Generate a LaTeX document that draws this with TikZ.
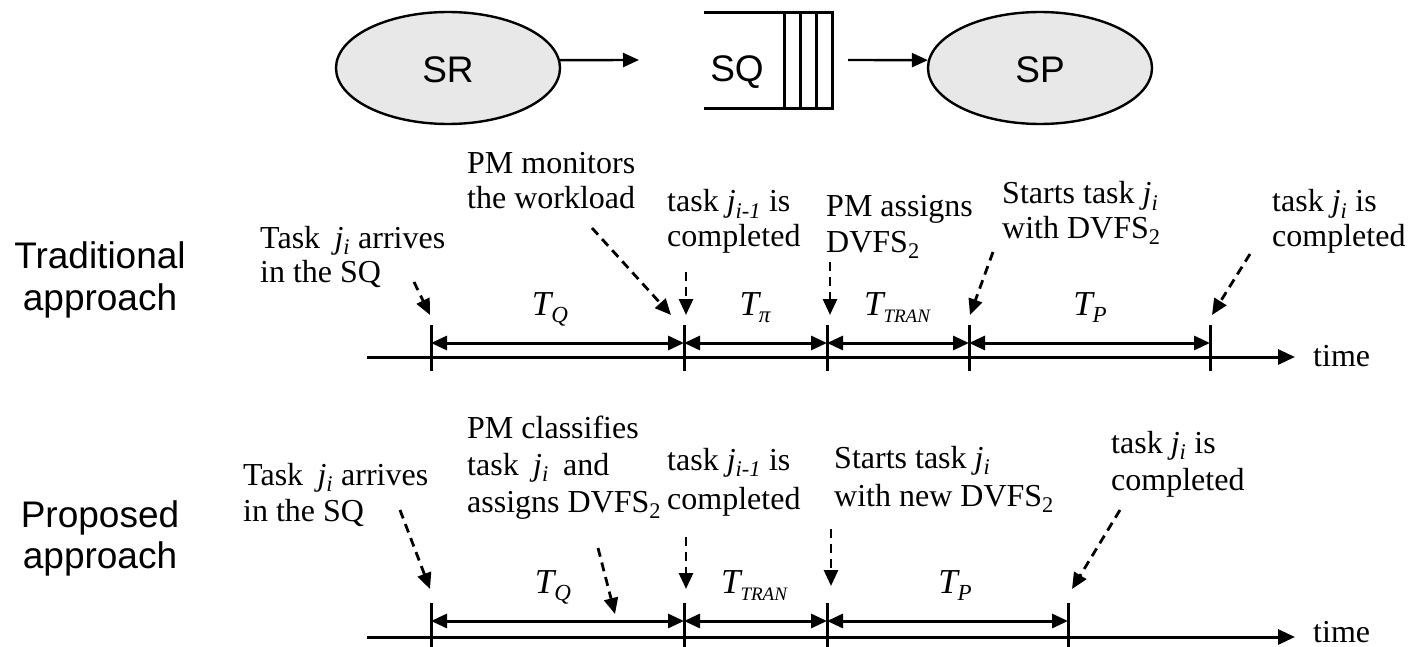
\documentclass[tikz,border=0pt]{standalone}
\usepackage{fontspec}
\setmainfont{Liberation Serif}
\setsansfont{Liberation Sans}
\usetikzlibrary{arrows.meta,shapes.geometric}
\definecolor{procgray}{RGB}{232,232,232}
% subscripts and interval labels
\newcommand\lsub[1]{\textsubscript{#1}}
\newcommand\jsub[1]{\textit{j}\lsub{\textit{#1}}}
\newcommand\Tlab[2][23]{{\itshape T}\raisebox{-7pt}{\fontsize{#1}{#1}\selectfont\itshape #2}}
\begin{document}
\begin{tikzpicture}[x=1pt,y=-1pt,
  proc/.style={ellipse, draw, line width=2.4pt, fill=procgray, minimum width=224pt,
    minimum height=112pt, inner sep=0pt},
  sysfont/.style={font=\fontsize{37}{37}\selectfont\sffamily, inner sep=0pt, anchor=base},
  flow/.style={line width=2.4pt, -{Triangle[length=16pt,width=14pt]}},
  qline/.style={line width=3pt},
  timeaxis/.style={line width=3pt, -{Triangle[length=17pt,width=15pt]}},
  tickmark/.style={line width=3pt},
  span/.style={line width=3pt, {Triangle[length=16pt,width=14pt]}-{Triangle[length=16pt,width=14pt]}},
  pointer/.style={line width=2.8pt, dash pattern=on 9pt off 6pt, -{Triangle[length=16pt,width=14pt]}},
  note/.style={font=\fontsize{32}{37}\selectfont, anchor=base west, inner sep=0pt},
  side/.style={font=\fontsize{37}{42}\selectfont\sffamily, anchor=base, inner sep=0pt},
  dur/.style={font=\fontsize{35}{35}\selectfont, anchor=base, inner sep=0pt},
]
\useasboundingbox (0,0) rectangle (1408,647);

% ---------- system: source, queue, processor ----------
\node[proc] (sr) at (448,68) {};
\node[proc] (sp) at (1040,68) {};
\node[sysfont] (srtext) at (448,83) {SR};
\node[sysfont] (sptext) at (1040,83) {SP};
\node[inner sep=0pt, minimum width=128pt, minimum height=95pt] (sqbox) at (768,60.5) {};
\draw[qline] (sqbox.north west) -- (sqbox.north east) -- (sqbox.south east) -- (sqbox.south west);
\foreach \x in {784,800,816} \draw[qline] (\x,13) -- (\x,108);
\node[sysfont] (sq) at (737,82) {SQ};
\coordinate (sqin) at (639,60);
\coordinate (sqout) at (848,60);
\draw[flow] (sr.4) -- (sqin);
\draw[flow] (sqout) -- (sp.176);

% ---------- row labels ----------
\node[side] (trad1) at (100,268) {Traditional};
\node[side] (trad2) at (100,310) {approach};
\node[side] (prop1) at (100,527) {Proposed};
\node[side] (prop2) at (100,568) {approach};

% ---------- traditional timeline ----------
\coordinate (ta0) at (367,357);
\coordinate (taend) at (1295,357);
\draw[timeaxis] (ta0) -- (taend);
\node[note] (time1) at (1313,366) {time};
\foreach \n/\x in {1/431,2/684,3/827,4/969,5/1210}{
  \coordinate (tt\n) at (\x,325);
  \coordinate (tb\n) at (\x,371);
  \coordinate (ts\n) at (\x,343);
  \draw[tickmark] (tt\n) -- (tb\n);
}
\draw[span] (ts1) -- (ts2);
\draw[span] (ts2) -- (ts3);
\draw[span] (ts3) -- (ts4);
\draw[span] (ts4) -- (ts5);
\node[dur] (tq1) at (550,315) {\Tlab{Q}};
\node[dur] (tpi1) at (755,315) {\Tlab{π}};
\node[dur] (ttr1) at (897,315) {\Tlab[19]{TRAN}};
\node[dur] (tp1) at (1090,315) {\Tlab{P}};

\node[note] (l1a) at (260,248) {Task\hspace{0.45em}\jsub{i} arrives};
\node[note] (l1b) at (260,282) {in the SQ};
\node[note] (l2a) at (467,174) {PM monitors};
\node[note] (l2b) at (467,208) {the workload};
\node[note] (l3a) at (667,212) {task \jsub{i-1} is};
\node[note] (l3b) at (667,246) {completed};
\node[note] (l4a) at (826,217) {PM assigns};
\node[note] (l4b) at (826,252) {DVFS\lsub{2}};
\node[note] (l5a) at (1002,204) {Starts task \jsub{i}};
\node[note] (l5b) at (1002,238) {with DVFS\lsub{2}};
\node[note] (l6a) at (1272,212) {task \jsub{i} is};
\node[note] (l6b) at (1272,246) {completed};

\coordinate (a1s) at (414,282); \coordinate (a1e) at (430,315);
\coordinate (a2s) at (592,228); \coordinate (a2e) at (671,315);
\coordinate (a3s) at (686,272); \coordinate (a3e) at (686,315);
\coordinate (a4s) at (830,262); \coordinate (a4e) at (830,315);
\coordinate (a5s) at (993,252); \coordinate (a5e) at (970,315);
\coordinate (a6s) at (1250,254); \coordinate (a6e) at (1212,315);
\foreach \k in {1,...,6} \draw[pointer] (a\k s) -- (a\k e);

% ---------- proposed timeline ----------
\coordinate (pa0) at (367,637);
\coordinate (paend) at (1295,637);
\draw[timeaxis] (pa0) -- (paend);
\node[note] (time2) at (1313,642) {time};
\foreach \n/\x in {1/431,2/684,3/827,4/1068}{
  \coordinate (pt\n) at (\x,603);
  \coordinate (pb\n) at (\x,651);
  \coordinate (ps\n) at (\x,621);
  \draw[tickmark] (pt\n) -- (pb\n);
}
\draw[span] (ps1) -- (ps2);
\draw[span] (ps2) -- (ps3);
\draw[span] (ps3) -- (ps4);
\node[dur] (tq2) at (553,593) {\Tlab{Q}};
\node[dur] (ttr2) at (754,593) {\Tlab[19]{TRAN}};
\node[dur] (tp2) at (955,593) {\Tlab{P}};

\node[note] (m1a) at (243,485) {Task\hspace{0.45em}\jsub{i} arrives};
\node[note] (m1b) at (243,521) {in the SQ};
\node[note] (m2a) at (467,438) {PM classifies};
\node[note] (m2b) at (467,475) {task\hspace{0.45em}\jsub{i}\hspace{0.45em}and};
\node[note] (m2c) at (467,512) {assigns DVFS\lsub{2}};
\node[note] (m3a) at (667,470) {task \jsub{i-1} is};
\node[note] (m3b) at (667,509) {completed};
\node[note] (m4a) at (834,468) {Starts task \jsub{i}};
\node[note] (m4b) at (834,506) {with new DVFS\lsub{2}};
\node[note] (m5a) at (1111,453) {task \jsub{i} is};
\node[note] (m5b) at (1111,490) {completed};

\coordinate (b1s) at (400,510); \coordinate (b1e) at (430,589);
\coordinate (b2s) at (598,548); \coordinate (b2e) at (615,614);
\coordinate (b3s) at (686,537); \coordinate (b3e) at (686,589);
\coordinate (b4s) at (831,529); \coordinate (b4e) at (831,586);
\coordinate (b5s) at (1120,510); \coordinate (b5e) at (1072,589);
\foreach \k in {1,...,5} \draw[pointer] (b\k s) -- (b\k e);
\end{tikzpicture}
\end{document}
